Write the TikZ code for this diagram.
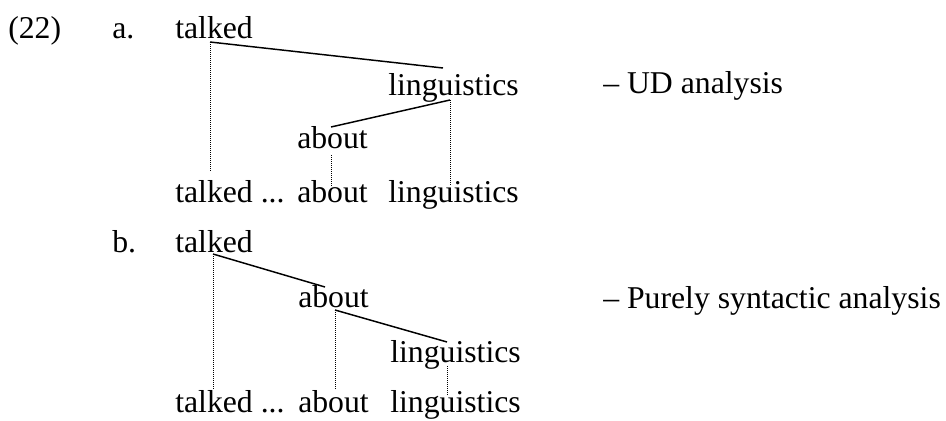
\documentclass[tikz,border=0pt]{standalone}
\usepackage{fontspec}
\setmainfont{Liberation Serif}
\begin{document}
\begin{tikzpicture}[x=0.75pt,y=-0.75pt,
  word/.style={inner sep=0pt, anchor=base west, font=\fontsize{23.8}{28}\selectfont},
  edge/.style={line width=1.1pt},
  proj/.style={line width=0.75pt, dash pattern=on 0.75pt off 0.75pt}]
\useasboundingbox (0,0) rectangle (946,421);
% example labels
\node[word] (num) at (8,38) {(22)};
\node[word] (la) at (112,38) {a.};
\node[word] (lb) at (112,252) {b.};
% tree a
\node[word] (aTalked) at (175,38) {talked};
\node[word] (aLing) at (388,95) {linguistics};
\node[word] (aAbout) at (297,148) {about};
\node[word] (aNoteUD) at (603,93) {– UD analysis};
\node[word] (aW1) at (175,202) {talked ...};
\node[word] (aW2) at (297,202) {about};
\node[word] (aW3) at (388,202) {linguistics};
\coordinate (aT0) at (210,42);
\coordinate (aT1) at (210,172);
\coordinate (aL0) at (443,68);
\coordinate (aL1) at (450,100);
\coordinate (aL2) at (450,185);
\coordinate (aA0) at (331,127);
\coordinate (aA1) at (331,155);
\coordinate (aA2) at (331,187);
\draw[edge] (aT0) -- (aL0);
\draw[edge] (aL1) -- (aA0);
\draw[proj] (aT0) -- (aT1);
\draw[proj] (aL1) -- (aL2);
\draw[proj] (aA1) -- (aA2);
% tree b
\node[word] (bTalked) at (175,252) {talked};
\node[word] (bAbout) at (298,307) {about};
\node[word] (bLing) at (390,362) {linguistics};
\node[word] (bNote) at (603,308) {– Purely syntactic analysis};
\node[word] (bW1) at (175,412) {talked ...};
\node[word] (bW2) at (298,412) {about};
\node[word] (bW3) at (390,412) {linguistics};
\coordinate (bT0) at (213,254);
\coordinate (bT1) at (213,390);
\coordinate (bA0) at (325,287);
\coordinate (bA1) at (335,310);
\coordinate (bA2) at (335,390);
\coordinate (bL0) at (447,342);
\coordinate (bL1) at (447,366);
\coordinate (bL2) at (447,395);
\draw[edge] (bT0) -- (bA0);
\draw[edge] (bA1) -- (bL0);
\draw[proj] (bT0) -- (bT1);
\draw[proj] (bA1) -- (bA2);
\draw[proj] (bL1) -- (bL2);
\end{tikzpicture}
\end{document}
